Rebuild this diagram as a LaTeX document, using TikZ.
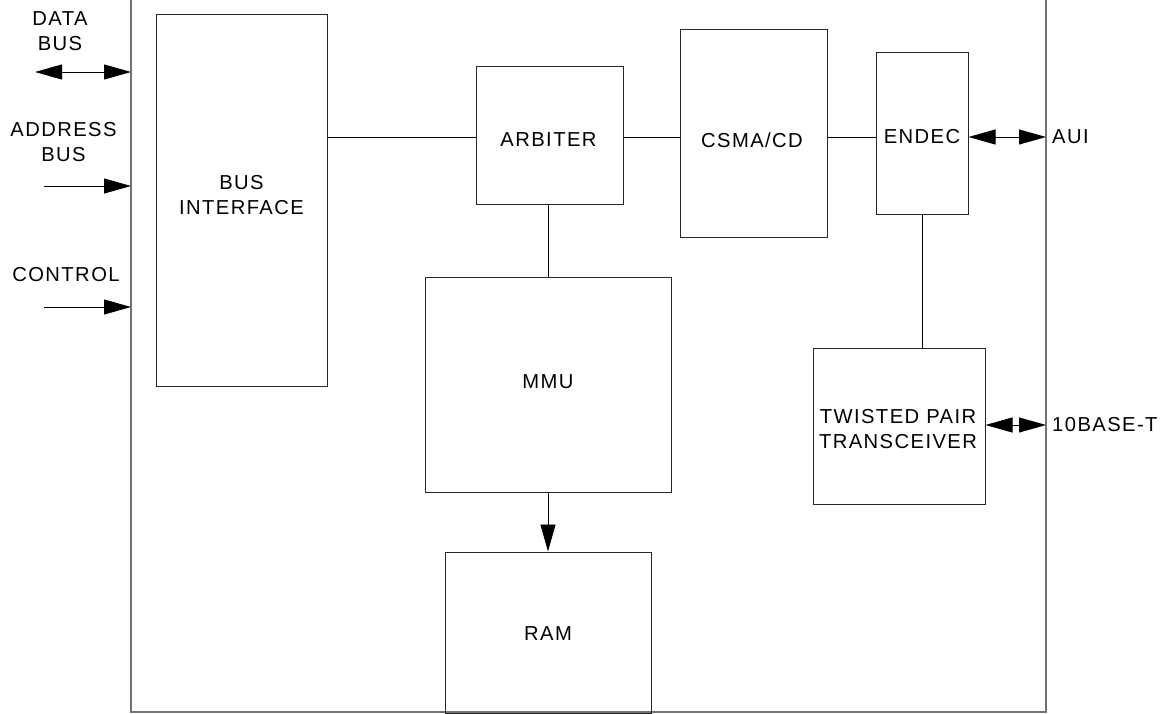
\documentclass[tikz,border=0pt]{standalone}
\usepackage{fontspec}
\setmainfont{Liberation Sans}[LetterSpace=7]
\usetikzlibrary{arrows.meta}
\begin{document}
\begin{tikzpicture}[x=1pt,y=-1pt,
  every node/.style={font=\fontsize{20.2}{25.5}\selectfont},
  blk/.style={draw=black!85, line width=1pt, inner sep=0pt},
  wire/.style={draw=black, line width=0.9pt},
  tip/.style={-{Triangle[length=27pt,width=15pt]}},
  dtip/.style={{Triangle[length=27pt,width=15pt]}-{Triangle[length=27pt,width=15pt]}},
  frame/.style={draw=black!55, line width=2pt},
  lbl/.style={inner sep=0pt, align=center}]
\useasboundingbox (0,0) rectangle (1165,714);
% outer frame (open at top)
\coordinate (ftl) at (131,-5);
\coordinate (fbl) at (131,712);
\coordinate (fbr) at (1046,712);
\coordinate (ftr) at (1046,-5);
\draw[frame] (ftl) -- (fbl) -- (fbr) -- (ftr);
% blocks
\node[blk, minimum width=171pt, minimum height=371pt] (bi) at (241.5,200.5) {};
\node[blk, minimum width=147pt, minimum height=138pt] (arb) at (549.5,136) {};
\node[blk, minimum width=147pt, minimum height=208pt] (csma) at (753.5,134) {};
\node[blk, minimum width=92pt, minimum height=162pt] (endec) at (922,134) {};
\node[blk, minimum width=246pt, minimum height=214pt] (mmu) at (548,385) {};
\node[blk, minimum width=206pt, minimum height=161pt] (ram) at (548,632.5) {};
\node[blk, minimum width=172pt, minimum height=156pt] (tp) at (899,426) {};
% block texts
\node[lbl] (bit) at (241.5,195) {BUS\\INTERFACE};
\node[lbl] (arbt) at (548.5,140) {ARBITER};
\node[lbl] (csmat) at (752,140) {CSMA/CD};
\node[lbl] (endect) at (922,137) {ENDEC};
\node[lbl] (mmut) at (548,382) {MMU};
\node[lbl] (ramt) at (548,634) {RAM};
\node[lbl] (tpt) at (898,429) {TWISTED PAIR\\TRANSCEIVER};
% internal connectors
\coordinate (row) at (0,137);
\draw[wire] (bi.east |- row) -- (arb.west |- row);
\draw[wire] (arb.east |- row) -- (csma.west |- row);
\draw[wire] (csma.east |- row) -- (endec.west |- row);
\draw[wire] (mmu.north) -- (mmu.north |- arb.south);
\draw[wire, tip] (mmu.south) -- (ram.north);
\draw[wire] (endec.south) -- (endec.south |- tp.north);
% external ports
\coordinate (aui) at (1046,137);
\coordinate (tbt) at (1046,425);
\draw[wire, dtip] (endec.east |- aui) -- (aui);
\draw[wire, dtip] (tp.east |- tbt) -- (tbt);
\node[lbl, anchor=west] (auil) at (1052,137) {AUI};
\node[lbl, anchor=west] (tbtl) at (1052,425) {10BASE-T};
\coordinate (db0) at (35,72);
\coordinate (db1) at (131,72);
\draw[wire, dtip] (db0) -- (db1);
\coordinate (ab0) at (44,186);
\coordinate (ab1) at (131,186);
\draw[wire, tip] (ab0) -- (ab1);
\coordinate (cb0) at (44,307);
\coordinate (cb1) at (131,307);
\draw[wire, tip] (cb0) -- (cb1);
\node[lbl] (dbl) at (60,31) {DATA\\BUS};
\node[lbl] (abl) at (63.5,142) {ADDRESS\\BUS};
\node[lbl] (cbl) at (66,275) {CONTROL};
\end{tikzpicture}
\end{document}
